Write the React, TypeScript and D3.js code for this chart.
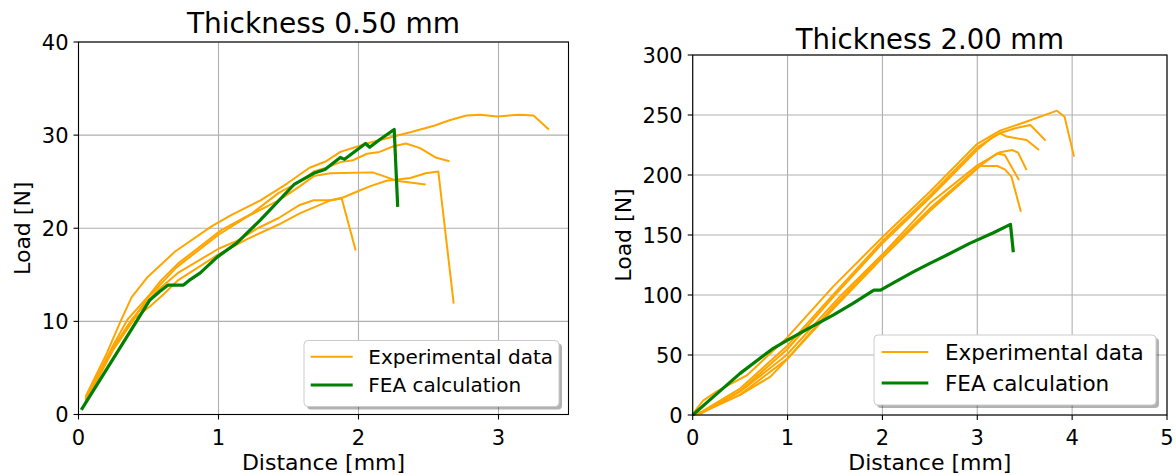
import React from 'react';
import * as d3 from 'd3';

type P = [number, number];

// ---------- Thickness 0.50 mm ----------
const thinExpA: P[] = [[0.05,1.9],[0.2,6.5],[0.30,10.0],[0.38,12.6],[0.49,14.7],[0.69,17.5],[0.95,20.2],[1.09,21.4],[1.30,23.0],[1.49,24.8],[1.65,26.5],[1.77,27.2],[1.87,28.2],[2.06,29.1],[2.25,29.85],[2.37,30.3],[2.54,31.0],[2.65,31.6],[2.77,32.1],[2.87,32.2],[2.99,32.0],[3.15,32.2],[3.25,32.1],[3.36,30.6]];
const thinExpB: P[] = [[0.05,1.5],[0.25,7.5],[0.35,10.2],[0.51,12.9],[0.59,14.4],[0.71,16.2],[0.90,18.4],[1.02,19.8],[1.24,21.6],[1.43,23.8],[1.58,25.0],[1.68,26.1],[1.77,26.5],[1.87,27.1],[1.96,27.3],[2.06,28.0],[2.15,28.2],[2.25,28.8],[2.34,29.1],[2.44,28.6],[2.55,27.6],[2.65,27.2]];
const thinExpC: P[] = [[0.05,1.7],[0.25,7.3],[0.5,12.6],[0.7,15.8],[1.0,19.3],[1.2,21.2],[1.43,23.0],[1.58,24.5],[1.68,25.6],[1.8,25.9],[2.1,26.0],[2.18,25.6],[2.27,25.1],[2.48,24.7]];
const thinExpD: P[] = [[0.05,1.3],[0.25,7.0],[0.4,10.3],[0.51,11.6],[0.6,12.8],[0.71,14.4],[1.0,17.2],[1.2,18.8],[1.43,20.4],[1.58,21.6],[1.69,22.3],[1.80,23.0],[1.89,23.3],[2.0,24.0],[2.08,24.5],[2.20,25.1],[2.37,25.4],[2.48,25.9],[2.57,26.1],[2.68,11.9]];
const thinExpE: P[] = [[0.05,1.6],[0.25,7.2],[0.38,10.2],[0.57,13.4],[0.71,15.2],[1.00,17.8],[1.14,18.7],[1.28,20.0],[1.43,21.1],[1.58,22.5],[1.68,23.0],[1.81,23.0],[1.88,23.2],[1.98,17.6]];
const thinFea: P[] = [[0.02,0.5],[0.51,12.3],[0.58,13.2],[0.64,13.9],[0.75,13.9],[0.79,14.4],[0.87,15.2],[0.99,16.9],[1.13,18.4],[1.30,20.9],[1.54,24.7],[1.68,25.9],[1.76,26.3],[1.87,27.6],[1.90,27.4],[2.05,29.1],[2.08,28.7],[2.15,29.5],[2.255,30.6],[2.28,22.3]];
const thinXTicks = [0, 1, 2, 3];
const thinYTicks = [0, 10, 20, 30, 40];

// ---------- Thickness 2.00 mm ----------
const thickExp1: P[] = [[0,0],[0.04,5],[0.11,12],[0.25,19.5],[0.57,33],[0.99,64],[1.48,107],[2.01,149],[2.5,186],[3.0,226],[3.24,237],[3.5,244],[3.84,253.6],[3.92,248.6],[4.02,215.3]];
const thickExp2: P[] = [[0,0],[0.1,3],[0.5,22],[1.0,58],[1.5,102],[2.0,145],[2.5,183],[3.0,223],[3.24,235],[3.4,239],[3.56,241.7],[3.63,236.1],[3.72,228.6]];
const thickExp3: P[] = [[0,0],[0.1,2],[0.5,20],[1.0,55],[1.5,100],[2.0,143],[2.5,181],[3.0,221],[3.15,231],[3.24,234.7],[3.31,232],[3.52,229.2],[3.65,220.8]];
const thickExp4: P[] = [[0,0],[0.09,1.4],[0.5,19.4],[0.99,50],[1.55,98.6],[2.01,134.7],[2.5,176.4],[3.0,208],[3.24,219],[3.37,220.8],[3.43,218.6],[3.52,204.2]];
const thickExp5: P[] = [[0,0],[0.1,2],[0.5,17],[1.0,47],[1.5,92],[2.0,133],[2.5,172],[3.0,206],[3.21,218],[3.29,216.7],[3.44,195.8]];
const thickExp6: P[] = [[0,0],[0.11,2.8],[0.5,16.7],[0.82,32],[0.99,46],[1.5,90],[2.0,131],[2.5,170],[3.03,207.5],[3.21,207.5],[3.29,204.7],[3.36,198.6],[3.46,169.4]];
const thickFea: P[] = [[0,0],[0.22,15.3],[0.50,34.7],[0.85,55.6],[0.99,61.9],[1.27,74.2],[1.48,83.3],[1.69,93],[1.91,104],[1.98,104],[2.12,110.3],[2.33,119.4],[2.50,126.4],[2.68,133.3],[2.92,143],[3.17,151.9],[3.35,158.9],[3.38,135.6]];
const thickXTicks = [0, 1, 2, 3, 4, 5];
const thickYTicks = [0, 50, 100, 150, 200, 250, 300];

const legendLabels = ['Experimental data', 'FEA calculation'];
const ORANGE = '#ffa500';
const GREEN = '#008000';
const FONT = 'DejaVu Sans, sans-serif';

interface PanelProps {
  x0: number; x1: number; y0: number; y1: number;
  xMax: number; yMax: number;
  xTicks: number[]; yTicks: number[];
  exp: P[][]; fea: P[];
  title: string; titleY: number; titleSize: number;
  tickSize: number; labelSize: number; ylabelX: number;
  leg: { x: number; y: number; w: number; h: number; hx0: number; hx1: number; tx: number; r1: number; r2: number; size: number };
}

function Panel(p: PanelProps) {
  const xs = d3.scaleLinear().domain([0, p.xMax]).range([p.x0, p.x1]);
  const ys = d3.scaleLinear().domain([0, p.yMax]).range([p.y1, p.y0]);
  const line = d3.line<P>().x(d => xs(d[0])).y(d => ys(d[1]));
  const cx = (p.x0 + p.x1) / 2;
  const cy = (p.y0 + p.y1) / 2;
  const L = p.leg;
  return (
    <g fontFamily={FONT}>
      {p.xTicks.map(t => (
        <line key={'gx' + t} x1={xs(t)} x2={xs(t)} y1={p.y0} y2={p.y1} stroke="#b0b0b0" strokeWidth={1.1} />
      ))}
      {p.yTicks.map(t => (
        <line key={'gy' + t} x1={p.x0} x2={p.x1} y1={ys(t)} y2={ys(t)} stroke="#b0b0b0" strokeWidth={1.1} />
      ))}
      {p.exp.map((s, i) => (
        <path key={'e' + i} d={line(s) || ''} fill="none" stroke={ORANGE} strokeWidth={2} strokeLinejoin="round" />
      ))}
      <path d={line(p.fea) || ''} fill="none" stroke={GREEN} strokeWidth={3.2} strokeLinejoin="round" />
      <rect x={p.x0} y={p.y0} width={p.x1 - p.x0} height={p.y1 - p.y0} fill="none" stroke="#000" strokeWidth={1.1} />
      {p.xTicks.map(t => (
        <g key={'tx' + t}>
          <line x1={xs(t)} x2={xs(t)} y1={p.y1} y2={p.y1 + 5} stroke="#000" strokeWidth={1.1} />
          <text x={xs(t)} y={p.y1 + 30} textAnchor="middle" fontSize={p.tickSize}>{t}</text>
        </g>
      ))}
      {p.yTicks.map(t => (
        <g key={'ty' + t}>
          <line x1={p.x0 - 5} x2={p.x0} y1={ys(t)} y2={ys(t)} stroke="#000" strokeWidth={1.1} />
          <text x={p.x0 - 10} y={ys(t)} dy="0.36em" textAnchor="end" fontSize={p.tickSize}>{t}</text>
        </g>
      ))}
      <text x={cx} y={p.titleY} textAnchor="middle" fontSize={p.titleSize}>{p.title}</text>
      <text x={cx} y={p.y1 + 55} textAnchor="middle" fontSize={p.labelSize}>Distance [mm]</text>
      <text transform={`translate(${p.ylabelX},${cy}) rotate(-90)`} textAnchor="middle" dy="0.36em" fontSize={p.labelSize}>Load [N]</text>
      {/* legend */}
      <rect x={L.x + 3} y={L.y + 3} width={L.w} height={L.h} rx={4} fill="#000" fillOpacity={0.3} />
      <rect x={L.x} y={L.y} width={L.w} height={L.h} rx={4} fill="#fff" stroke="#cccccc" strokeWidth={1} />
      <line x1={L.hx0} x2={L.hx1} y1={L.r1} y2={L.r1} stroke={ORANGE} strokeWidth={2} />
      <line x1={L.hx0} x2={L.hx1} y1={L.r2} y2={L.r2} stroke={GREEN} strokeWidth={3.2} />
      <text x={L.tx} y={L.r1} dy="0.36em" fontSize={L.size}>{legendLabels[0]}</text>
      <text x={L.tx} y={L.r2} dy="0.36em" fontSize={L.size}>{legendLabels[1]}</text>
    </g>
  );
}

export default function App() {
  return (
    <svg width={1176} height={475} style={{ display: 'block', position: 'absolute', left: 0, top: 0, background: '#fff' }}>
      <rect width={1176} height={475} fill="#fff" />
      <Panel x0={78.5} x1={568.5} y0={42} y1={414.5} xMax={3.5} yMax={40}
        xTicks={thinXTicks} yTicks={thinYTicks}
        exp={[thinExpA, thinExpB, thinExpC, thinExpD, thinExpE]} fea={thinFea}
        title="Thickness 0.50 mm" titleY={33} titleSize={28}
        tickSize={21} labelSize={22} ylabelX={22}
        leg={{ x: 304, y: 340.5, w: 255, h: 66, hx0: 310.7, hx1: 352.7, tx: 368.3, r1: 356.7, r2: 385, size: 20 }} />
      <Panel x0={692.7} x1={1167} y0={55} y1={415} xMax={5} yMax={300}
        xTicks={thickXTicks} yTicks={thickYTicks}
        exp={[thickExp1, thickExp2, thickExp3, thickExp4, thickExp5, thickExp6]} fea={thickFea}
        title="Thickness 2.00 mm" titleY={49} titleSize={27.5}
        tickSize={21} labelSize={22} ylabelX={623}
        leg={{ x: 874, y: 335, w: 282, h: 70, hx0: 881.7, hx1: 928.3, tx: 945, r1: 352, r2: 383, size: 21.5 }} />
    </svg>
  );
}
